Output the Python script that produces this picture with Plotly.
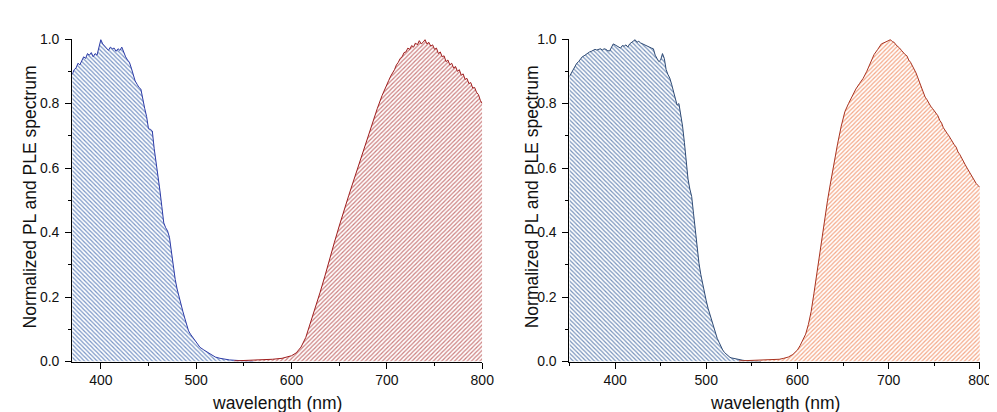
import plotly.graph_objects as go

# ---------------- data ----------------
left_ple_wl = [370,372,374,376,378,380,382,384,386,388,390,392,394,396,398,400,402,404,406,408,
               410,412,414,416,418,420,422,424,426,428,430,432,434,436,438,440,442,444,446,448,
               450,452,454,456,458,460,462,464,466,468,470,472,474,476,478,480,482,484,486,488,
               490,492,494,496,498,500,504,508,512,516,520,525,530,535,540,545,550,555,560]
left_ple_val = [0.89,0.905,0.91,0.925,0.92,0.935,0.945,0.94,0.955,0.95,0.958,0.945,0.955,0.95,0.975,0.998,0.985,0.978,0.97,0.965,
                0.975,0.97,0.972,0.962,0.97,0.965,0.975,0.958,0.945,0.935,0.928,0.91,0.89,0.87,0.86,0.85,0.845,0.82,0.785,0.76,
                0.722,0.72,0.715,0.66,0.62,0.575,0.53,0.48,0.43,0.415,0.405,0.385,0.34,0.295,0.255,0.225,0.2,0.178,0.156,0.135,
                0.11,0.095,0.085,0.077,0.067,0.058,0.044,0.036,0.029,0.02,0.014,0.01,0.007,0.005,0.004,0.003,0.002,0.001,0.0]

left_pl_wl = [540,550,560,570,580,590,595,600,605,610,615,620,625,630,635,640,645,650,655,660,665,670,675,680,685,690,695,
              700,702,704,706,708,710,712,714,716,718,720,722,724,726,728,730,732,734,736,738,740,742,744,746,748,
              750,752,754,756,758,760,762,764,766,768,770,772,774,776,778,780,782,784,786,788,790,792,794,796,798,800]
left_pl_val = [0.002,0.003,0.004,0.005,0.007,0.01,0.013,0.018,0.027,0.045,0.075,0.12,0.165,0.215,0.265,0.32,0.37,0.42,0.47,0.515,0.56,0.605,0.65,0.7,0.745,0.785,0.825,
               0.862,0.872,0.885,0.895,0.905,0.92,0.928,0.94,0.945,0.958,0.96,0.972,0.968,0.98,0.975,0.988,0.982,0.995,0.985,0.99,0.998,0.985,0.99,0.978,0.982,
               0.968,0.972,0.955,0.96,0.945,0.948,0.93,0.935,0.92,0.925,0.91,0.915,0.9,0.905,0.888,0.892,0.875,0.878,0.862,0.865,0.848,0.85,0.835,0.828,0.81,0.80]

right_ple_wl = [350,352,354,356,358,360,362,364,366,368,370,372,374,376,378,380,382,384,386,388,390,392,394,396,398,
                400,402,404,406,408,410,412,414,416,418,420,422,424,426,428,430,432,434,436,438,440,442,444,446,448,
                450,452,454,456,458,460,462,464,466,468,470,472,474,476,478,480,482,484,486,488,490,492,494,496,498,
                500,502,504,506,508,510,512,514,516,518,520,522,524,526,528,532,536,540,545,550,560]
right_ple_val = [0.884,0.895,0.905,0.915,0.925,0.93,0.938,0.945,0.948,0.952,0.958,0.96,0.962,0.965,0.968,0.966,0.968,0.97,0.966,0.97,0.968,0.964,0.963,0.975,0.985,
                 0.982,0.978,0.975,0.972,0.98,0.978,0.982,0.975,0.985,0.99,0.995,0.998,0.99,0.993,0.988,0.985,0.982,0.98,0.978,0.975,0.972,0.97,0.95,0.94,0.93,
                 0.935,0.955,0.94,0.905,0.89,0.879,0.86,0.84,0.815,0.795,0.80,0.77,0.73,0.68,0.62,0.566,0.535,0.512,0.46,0.4,0.35,0.305,0.27,0.24,0.21,
                 0.188,0.165,0.145,0.125,0.105,0.088,0.072,0.06,0.047,0.036,0.028,0.022,0.017,0.013,0.011,0.008,0.005,0.004,0.002,0.001,0.0]

right_pl_wl = [536,550,560,570,580,585,590,595,600,603,606,609,612,615,618,621,624,627,630,633,636,640,644,648,652,656,660,664,668,672,676,680,684,688,692,696,
               700,702,704,706,708,710,712,714,716,718,720,722,724,726,728,730,732,734,736,738,740,742,744,746,748,
               750,752,754,756,758,760,762,764,766,768,770,772,774,776,778,780,782,784,786,788,790,792,794,796,798,800]
right_pl_val = [0.002,0.003,0.004,0.005,0.007,0.01,0.014,0.022,0.036,0.05,0.066,0.085,0.115,0.155,0.21,0.27,0.335,0.395,0.45,0.5,0.55,0.615,0.675,0.73,0.775,0.8,0.825,0.845,0.862,0.878,0.9,0.925,0.952,0.968,0.985,0.99,
                0.995,0.998,0.992,0.99,0.982,0.978,0.972,0.965,0.958,0.952,0.948,0.935,0.928,0.918,0.905,0.895,0.88,0.865,0.85,0.835,0.82,0.812,0.8,0.792,0.785,
                0.778,0.772,0.762,0.748,0.74,0.725,0.718,0.708,0.7,0.69,0.682,0.672,0.665,0.65,0.642,0.63,0.622,0.61,0.6,0.59,0.578,0.57,0.562,0.552,0.546,0.54]

x_tick_vals = [400, 500, 600, 700, 800]
y_tick_vals = [0.0, 0.2, 0.4, 0.6, 0.8, 1.0]
y_title = "Normalized PL and PLE spectrum"
x_title = "wavelength (nm)"

FONT = "Liberation Sans, Arial, sans-serif"
TXT = "#111111"

fig = go.Figure()

def add_area(x, y, xa, ya, line_color, hatch_color, shape):
    fig.add_trace(go.Scatter(
        x=x, y=y, xaxis=xa, yaxis=ya, mode="lines", fill="tozeroy",
        line=dict(color=line_color, width=1),
        fillcolor="white",
        fillpattern=dict(shape=shape, fgcolor=hatch_color, bgcolor="white",
                         size=3, solidity=0.4, fillmode="replace"),
        showlegend=False, hoverinfo="skip"))

add_area(left_ple_wl, left_ple_val, "x", "y", "#2b3aa6", "#7a96c6", "\\")
add_area(left_pl_wl, left_pl_val, "x", "y", "#9e1c1c", "#cc8080", "/")
add_area(right_ple_wl, right_ple_val, "x2", "y2", "#2e4a74", "#7893bc", "\\")
add_area(right_pl_wl, right_pl_val, "x2", "y2", "#a8321f", "#f4a888", "/")

ydom = [(412 - 359.5) / 412, (412 - 24) / 412]

def xaxis(domain, rng, anchor):
    return dict(domain=domain, range=rng, anchor=anchor, showline=True, linecolor="black",
                linewidth=1, mirror=False, showgrid=False, zeroline=False,
                tickmode="array", tickvals=x_tick_vals, ticks="outside", ticklen=6,
                tickcolor="black", tickfont=dict(family=FONT, size=14, color=TXT),
                minor=dict(dtick=50, tick0=0, ticks="outside", ticklen=3, tickcolor="black"))

def yaxis(anchor):
    return dict(domain=ydom, range=[0, 1.0], anchor=anchor, showline=True, linecolor="black",
                linewidth=1, mirror=False, showgrid=False, zeroline=False,
                tickmode="array", tickvals=y_tick_vals, tickformat=".1f", ticks="outside",
                ticklen=6, tickcolor="black", tickfont=dict(family=FONT, size=14, color=TXT),
                ticklabelstandoff=3,
                minor=dict(dtick=0.1, tick0=0, ticks="outside", ticklen=3, tickcolor="black"))

fig.update_layout(
    width=997, height=412, margin=dict(l=0, r=0, t=0, b=0),
    paper_bgcolor="white", plot_bgcolor="white",
    xaxis=xaxis([65 / 997, 480 / 997], [370, 800], "y"),
    yaxis=yaxis("x"),
    xaxis2=xaxis([568.3 / 997, 983.7 / 997], [350, 800], "y2"),
    yaxis2=yaxis("x2"),
)

annos = []
for xc in [22, 530]:
    annos.append(dict(x=xc / 997, y=(412 - 188) / 412, xref="paper", yref="paper",
                      text=y_title, textangle=-90, showarrow=False,
                      font=dict(family=FONT, size=17.5, color=TXT), xanchor="center", yanchor="middle"))
for xc in [272.5, 776]:
    annos.append(dict(x=xc / 997, y=(412 - 402.5) / 412, xref="paper", yref="paper",
                      text=x_title, showarrow=False,
                      font=dict(family=FONT, size=17.5, color=TXT), xanchor="center", yanchor="middle"))
fig.update_layout(annotations=annos)

fig.write_html("out.html")
